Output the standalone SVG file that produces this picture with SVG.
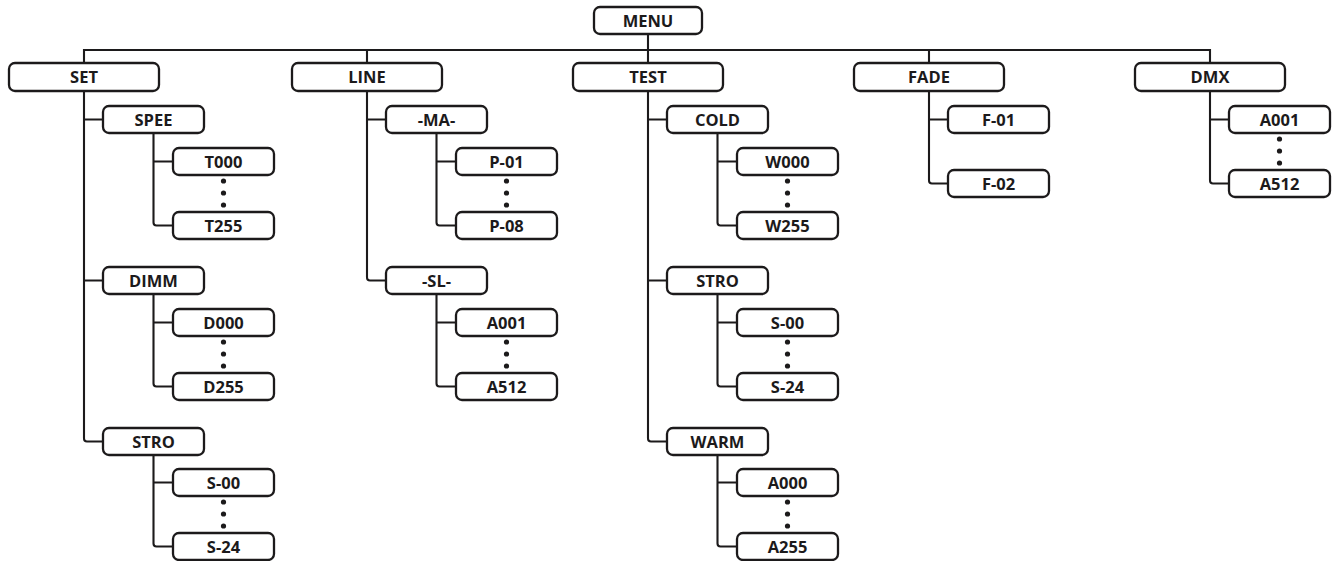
<svg xmlns="http://www.w3.org/2000/svg" width="1332" height="561" viewBox="0 0 1332 561">
<style>
.b{fill:#fff;stroke:#1c1a1b;stroke-width:2.3}
.t{font-family:"Open Sans","Liberation Sans",sans-serif;font-weight:bold;font-size:16.5px;fill:#1c1a1b;text-anchor:middle}
.c{fill:none;stroke:#1c1a1b;stroke-width:2.1}
.d{fill:#1c1a1b}
</style>
<rect width="1332" height="561" fill="#fff"/>
<g id="connectors">
<path class="c" d="M84,63V50H1210V63M367,50V63M648,34V63M929,50V63"/>
<path class="c" d="M84,91V438.5Q84,441.5 87,441.5H103M84,119.5H103M84,280.5H103"/>
<path class="c" d="M153.5,133V222.5Q153.5,225.5 156.5,225.5H173M153.5,161.5H173"/>
<path class="c" d="M153.5,294V383.5Q153.5,386.5 156.5,386.5H173M153.5,322.5H173"/>
<path class="c" d="M153.5,455V543.5Q153.5,546.5 156.5,546.5H173M153.5,482.5H173"/>
<path class="c" d="M367,91V277.5Q367,280.5 370,280.5H386M367,119.5H386"/>
<path class="c" d="M436.5,133V222.5Q436.5,225.5 439.5,225.5H456M436.5,161.5H456"/>
<path class="c" d="M436.5,294V383.5Q436.5,386.5 439.5,386.5H456M436.5,322.5H456"/>
<path class="c" d="M648,91V438.5Q648,441.5 651,441.5H667M648,119.5H667M648,280.5H667"/>
<path class="c" d="M717.5,133V222.5Q717.5,225.5 720.5,225.5H737M717.5,161.5H737"/>
<path class="c" d="M717.5,294V383.5Q717.5,386.5 720.5,386.5H737M717.5,322.5H737"/>
<path class="c" d="M717.5,455V543.5Q717.5,546.5 720.5,546.5H737M717.5,482.5H737"/>
<path class="c" d="M929,91V180.5Q929,183.5 932,183.5H948M929,119.5H948"/>
<path class="c" d="M1210,91V180.5Q1210,183.5 1213,183.5H1229M1210,119.5H1229"/>
</g>
<g id="dots">
<circle class="d" cx="223.5" cy="181" r="2.6"/><circle class="d" cx="223.5" cy="193" r="2.6"/><circle class="d" cx="223.5" cy="205" r="2.6"/>
<circle class="d" cx="223.5" cy="342" r="2.6"/><circle class="d" cx="223.5" cy="354" r="2.6"/><circle class="d" cx="223.5" cy="366" r="2.6"/>
<circle class="d" cx="223.5" cy="502" r="2.6"/><circle class="d" cx="223.5" cy="514" r="2.6"/><circle class="d" cx="223.5" cy="526" r="2.6"/>
<circle class="d" cx="506.5" cy="181" r="2.6"/><circle class="d" cx="506.5" cy="193" r="2.6"/><circle class="d" cx="506.5" cy="205" r="2.6"/>
<circle class="d" cx="506.5" cy="342" r="2.6"/><circle class="d" cx="506.5" cy="354" r="2.6"/><circle class="d" cx="506.5" cy="366" r="2.6"/>
<circle class="d" cx="787.5" cy="181" r="2.6"/><circle class="d" cx="787.5" cy="193" r="2.6"/><circle class="d" cx="787.5" cy="205" r="2.6"/>
<circle class="d" cx="787.5" cy="342" r="2.6"/><circle class="d" cx="787.5" cy="354" r="2.6"/><circle class="d" cx="787.5" cy="366" r="2.6"/>
<circle class="d" cx="787.5" cy="502" r="2.6"/><circle class="d" cx="787.5" cy="514" r="2.6"/><circle class="d" cx="787.5" cy="526" r="2.6"/>
<circle class="d" cx="1279.5" cy="139" r="2.6"/><circle class="d" cx="1279.5" cy="151" r="2.6"/><circle class="d" cx="1279.5" cy="163" r="2.6"/>
</g>
<g id="menu"><rect class="b" x="594" y="7" width="108" height="27" rx="6"/><text class="t" x="648" y="26.5">MENU</text></g>
<g id="set"><rect class="b" x="9" y="63" width="150" height="28" rx="6"/><text class="t" x="84" y="83">SET</text></g>
<g id="line"><rect class="b" x="292" y="63" width="150" height="28" rx="6"/><text class="t" x="367" y="83">LINE</text></g>
<g id="test"><rect class="b" x="573" y="63" width="150" height="28" rx="6"/><text class="t" x="648" y="83">TEST</text></g>
<g id="fade"><rect class="b" x="854" y="63" width="150" height="28" rx="6"/><text class="t" x="929" y="83">FADE</text></g>
<g id="dmx"><rect class="b" x="1135" y="63" width="150" height="28" rx="6"/><text class="t" x="1210" y="83">DMX</text></g>

<g id="set-spee"><rect class="b" x="103" y="106" width="101" height="27" rx="6"/><text class="t" x="153.5" y="125.5">SPEE</text></g>
<g id="set-t000"><rect class="b" x="173" y="148" width="101" height="27" rx="6"/><text class="t" x="223.5" y="167.5">T000</text></g>
<g id="set-t255"><rect class="b" x="173" y="212" width="101" height="27" rx="6"/><text class="t" x="223.5" y="231.5">T255</text></g>
<g id="set-dimm"><rect class="b" x="103" y="267" width="101" height="27" rx="6"/><text class="t" x="153.5" y="286.5">DIMM</text></g>
<g id="set-d000"><rect class="b" x="173" y="309" width="101" height="27" rx="6"/><text class="t" x="223.5" y="328.5">D000</text></g>
<g id="set-d255"><rect class="b" x="173" y="373" width="101" height="27" rx="6"/><text class="t" x="223.5" y="392.5">D255</text></g>
<g id="set-stro"><rect class="b" x="103" y="428" width="101" height="27" rx="6"/><text class="t" x="153.5" y="447.5">STRO</text></g>
<g id="set-s00"><rect class="b" x="173" y="469" width="101" height="27" rx="6"/><text class="t" x="223.5" y="488.5">S-00</text></g>
<g id="set-s24"><rect class="b" x="173" y="533" width="101" height="27" rx="6"/><text class="t" x="223.5" y="552.5">S-24</text></g>

<g id="line-ma"><rect class="b" x="386" y="106" width="101" height="27" rx="6"/><text class="t" x="436.5" y="125.5">-MA-</text></g>
<g id="line-p01"><rect class="b" x="456" y="148" width="101" height="27" rx="6"/><text class="t" x="506.5" y="167.5">P-01</text></g>
<g id="line-p08"><rect class="b" x="456" y="212" width="101" height="27" rx="6"/><text class="t" x="506.5" y="231.5">P-08</text></g>
<g id="line-sl"><rect class="b" x="386" y="267" width="101" height="27" rx="6"/><text class="t" x="436.5" y="286.5">-SL-</text></g>
<g id="line-a001"><rect class="b" x="456" y="309" width="101" height="27" rx="6"/><text class="t" x="506.5" y="328.5">A001</text></g>
<g id="line-a512"><rect class="b" x="456" y="373" width="101" height="27" rx="6"/><text class="t" x="506.5" y="392.5">A512</text></g>

<g id="test-cold"><rect class="b" x="667" y="106" width="101" height="27" rx="6"/><text class="t" x="717.5" y="125.5">COLD</text></g>
<g id="test-w000"><rect class="b" x="737" y="148" width="101" height="27" rx="6"/><text class="t" x="787.5" y="167.5">W000</text></g>
<g id="test-w255"><rect class="b" x="737" y="212" width="101" height="27" rx="6"/><text class="t" x="787.5" y="231.5">W255</text></g>
<g id="test-stro"><rect class="b" x="667" y="267" width="101" height="27" rx="6"/><text class="t" x="717.5" y="286.5">STRO</text></g>
<g id="test-s00"><rect class="b" x="737" y="309" width="101" height="27" rx="6"/><text class="t" x="787.5" y="328.5">S-00</text></g>
<g id="test-s24"><rect class="b" x="737" y="373" width="101" height="27" rx="6"/><text class="t" x="787.5" y="392.5">S-24</text></g>
<g id="test-warm"><rect class="b" x="667" y="428" width="101" height="27" rx="6"/><text class="t" x="717.5" y="447.5">WARM</text></g>
<g id="test-a000"><rect class="b" x="737" y="469" width="101" height="27" rx="6"/><text class="t" x="787.5" y="488.5">A000</text></g>
<g id="test-a255"><rect class="b" x="737" y="533" width="101" height="27" rx="6"/><text class="t" x="787.5" y="552.5">A255</text></g>

<g id="fade-f01"><rect class="b" x="948" y="106" width="101" height="27" rx="6"/><text class="t" x="998.5" y="125.5">F-01</text></g>
<g id="fade-f02"><rect class="b" x="948" y="170" width="101" height="27" rx="6"/><text class="t" x="998.5" y="189.5">F-02</text></g>

<g id="dmx-a001"><rect class="b" x="1229" y="106" width="101" height="27" rx="6"/><text class="t" x="1279.5" y="125.5">A001</text></g>
<g id="dmx-a512"><rect class="b" x="1229" y="170" width="101" height="27" rx="6"/><text class="t" x="1279.5" y="189.5">A512</text></g>
</svg>
